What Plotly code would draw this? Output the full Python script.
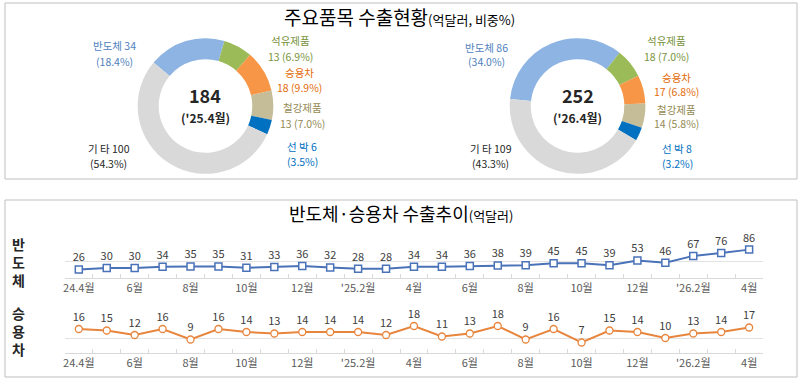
import plotly.graph_objects as go

# ---------------- data ----------------
items = ["반도체", "석유제품", "승용차", "철강제품", "선 박", "기 타"]
amount_2504 = [34, 13, 18, 13, 6, 100]
share_2504 = [18.4, 6.9, 9.9, 7.0, 3.5, 54.3]
amount_2604 = [86, 18, 17, 14, 8, 109]
share_2604 = [34.0, 7.0, 6.8, 5.8, 3.2, 43.3]
total_2504 = 184
total_2604 = 252
period_2504 = "('25.4월)"
period_2604 = "('26.4월)"

months = ["24.4", "24.5", "24.6", "24.7", "24.8", "24.9", "24.10", "24.11", "24.12",
          "25.1", "25.2", "25.3", "25.4", "25.5", "25.6", "25.7", "25.8", "25.9",
          "25.10", "25.11", "25.12", "26.1", "26.2", "26.3", "26.4"]
tick_labels = ["24.4월", "", "6월", "", "8월", "", "10월", "", "12월", "", "'25.2월", "",
               "4월", "", "6월", "", "8월", "", "10월", "", "12월", "", "'26.2월", "", "4월"]
semi = [26, 30, 30, 34, 35, 35, 31, 33, 36, 32, 28, 28, 34, 34, 36, 38, 39, 45, 45, 39,
        53, 46, 67, 76, 86]
cars = [16, 15, 12, 16, 9, 16, 14, 13, 14, 14, 14, 12, 18, 11, 13, 18, 9, 16, 7, 15,
        14, 10, 13, 14, 17]

# ---------------- style ----------------
W, H = 800, 381
FONT = "Noto Sans CJK KR"
slice_colors = ["#8DB4E2", "#9BBB59", "#F79646", "#C4BD97", "#0070C0", "#D9D9D9"]
label_colors = ["#4F81BD", "#77933C", "#E46C0A", "#948A54", "#0070C0", "#262626"]
two_line_value = [False, True, True, True, False, False]


def px(x):
    return x / W


def py(y):
    return 1 - y / H


fig = go.Figure()

# ---------------- donuts ----------------
# label positions: (x, y of first line, y of second line)
donuts = [
    dict(amount=amount_2504, share=share_2504, total=total_2504, period=period_2504,
         cx=204, cy=106, r=68, rot=-50,
         pos=[(113, 46, 61), (289, 41, 56), (298, 72, 87), (301, 108, 123),
              (301, 146, 161), (107, 148, 163)]),
    dict(amount=amount_2604, share=share_2604, total=total_2604, period=period_2604,
         cx=577, cy=106, r=68, rot=-84,
         pos=[(486, 47, 62), (666, 41, 56), (676, 77, 92), (676, 109, 124),
              (677, 148, 163), (490, 148, 163)]),
]

annotations = []
for d in donuts:
    fig.add_trace(go.Pie(
        labels=items, values=d["share"], hole=0.69, sort=False, direction="clockwise",
        rotation=d["rot"], textinfo="none", hoverinfo="label+value",
        marker=dict(colors=slice_colors, line=dict(width=0)),
        domain=dict(x=[px(d["cx"] - d["r"]), px(d["cx"] + d["r"])],
                    y=[py(d["cy"] + d["r"]), py(d["cy"] - d["r"])]),
        showlegend=False,
    ))
    annotations.append(dict(x=px(d["cx"]), y=py(d["cy"] - 11), text=f"<b>{d['total']}</b>",
                            font=dict(size=18, color="#262626", family=FONT)))
    annotations.append(dict(x=px(d["cx"]), y=py(d["cy"] + 11), text=f"<b>{d['period']}</b>",
                            font=dict(size=12, color="#262626", family=FONT)))
    for i, name in enumerate(items):
        if two_line_value[i]:
            l1 = name
            l2 = f"{d['amount'][i]} ({d['share'][i]:.1f}%)"
        else:
            l1 = f"{name} {d['amount'][i]}"
            l2 = f"({d['share'][i]:.1f}%)"
        x, y1, y2 = d["pos"][i]
        for txt, yy in ((l1, y1), (l2, y2)):
            annotations.append(dict(x=px(x), y=py(yy), text=txt, borderpad=0,
                                    font=dict(size=10.5, color=label_colors[i], family=FONT)))

# ---------------- line charts ----------------
fig.add_trace(go.Scatter(
    x=months, y=semi, mode="lines+markers+text", text=[str(v) for v in semi],
    textposition="top center", textfont=dict(size=11, color="#404040", family=FONT),
    line=dict(color="#4A72B8", width=2),
    marker=dict(symbol="square", size=7, color="white", line=dict(color="#4A72B8", width=1.5)),
    cliponaxis=False, xaxis="x", yaxis="y", showlegend=False,
))
fig.add_trace(go.Scatter(
    x=months, y=cars, mode="lines+markers+text", text=[str(v) for v in cars],
    textposition="top center", textfont=dict(size=11, color="#404040", family=FONT),
    line=dict(color="#E8853D", width=2),
    marker=dict(symbol="circle", size=7, color="white", line=dict(color="#E8853D", width=1.3)),
    cliponaxis=False, xaxis="x2", yaxis="y2", showlegend=False,
))

xdom = [px(63), px(763)]
xaxis_common = dict(
    type="category", categoryorder="array", categoryarray=months,
    tickmode="array", tickvals=months, ticktext=tick_labels, tickangle=0,
    tickson="boundaries", ticks="inside", ticklen=4, tickcolor="#D9D9D9",
    showline=True, linecolor="#D9D9D9", linewidth=1, showgrid=False,
    tickfont=dict(size=11, color="#595959", family=FONT), zeroline=False,
    range=[-0.5, len(months) - 0.5], fixedrange=True, domain=xdom,
)
yaxis_common = dict(showticklabels=False, ticks="", showline=False, zeroline=False,
                    gridcolor="#E3E3E3", gridwidth=1, fixedrange=True)

fig.update_layout(
    xaxis=dict(**xaxis_common, anchor="y"),
    yaxis=dict(**yaxis_common, range=[0, 100], tickvals=[0, 50, 100],
               domain=[py(278), py(245)], anchor="x"),
    xaxis2=dict(**xaxis_common, anchor="y2"),
    yaxis2=dict(**yaxis_common, range=[0, 20], tickvals=[0, 10, 20],
                domain=[py(353), py(323)], anchor="x2"),
)

# titles and side labels
annotations.append(dict(
    x=px(398), y=py(16),
    text="주요품목 수출현황<span style='font-size:13px'>(억달러, 비중%)</span>",
    font=dict(size=19, color="#000000", family=FONT)))
annotations.append(dict(
    x=px(400), y=py(213),
    text="반도체·승용차 수출추이<span style='font-size:13px'>(억달러)</span>",
    font=dict(size=18, color="#000000", family=FONT)))
annotations.append(dict(x=px(17), y=py(262), text="<b>반<br>도<br>체</b>",
                        font=dict(size=14, color="#262626", family=FONT)))
annotations.append(dict(x=px(17), y=py(331), text="<b>승<br>용<br>차</b>",
                        font=dict(size=14, color="#262626", family=FONT)))

for a in annotations:
    a.update(xref="paper", yref="paper", showarrow=False, xanchor="center", yanchor="middle")

fig.update_layout(
    width=W, height=H, margin=dict(l=0, r=0, t=0, b=0),
    paper_bgcolor="white", plot_bgcolor="white",
    font=dict(family=FONT),
    annotations=annotations,
    shapes=[
        dict(type="rect", xref="paper", yref="paper", x0=px(3), x1=px(797), y0=py(179), y1=py(3),
             line=dict(color="#BFBFBF", width=1), layer="below"),
        dict(type="rect", xref="paper", yref="paper", x0=px(3), x1=px(797), y0=py(377), y1=py(200),
             line=dict(color="#BFBFBF", width=1), layer="below"),
    ],
)

fig.write_html("out.html", config={"displayModeBar": False},
               post_script="document.body.style.margin='0';document.body.style.overflow='hidden';")
